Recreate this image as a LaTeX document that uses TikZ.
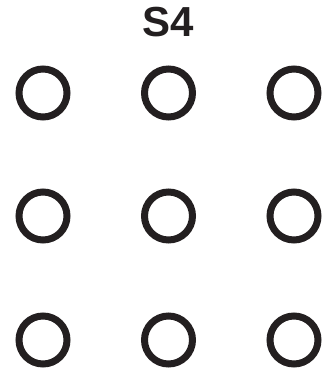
\documentclass[tikz,border=0pt]{standalone}
\usepackage{fontspec}
\setmainfont{Liberation Sans}
\definecolor{ink}{RGB}{35,31,32}

\begin{document}
\begin{tikzpicture}[x=1pt,y=1pt,
  ring/.style={circle,draw=ink,line width=7pt,minimum size=48pt,inner sep=0pt}]
\useasboundingbox (0,0) rectangle (324,-373);
\node[text=ink,font=\bfseries\fontsize{42}{42}\selectfont] (title) at (168,-22){S4};
\foreach \r/\y in {1/-93,2/-216,3/-340}
  \foreach \c/\x in {1/43,2/168.5,3/294}
    \node[ring] (ring\r\c) at (\x,\y){};
\end{tikzpicture}
\end{document}
